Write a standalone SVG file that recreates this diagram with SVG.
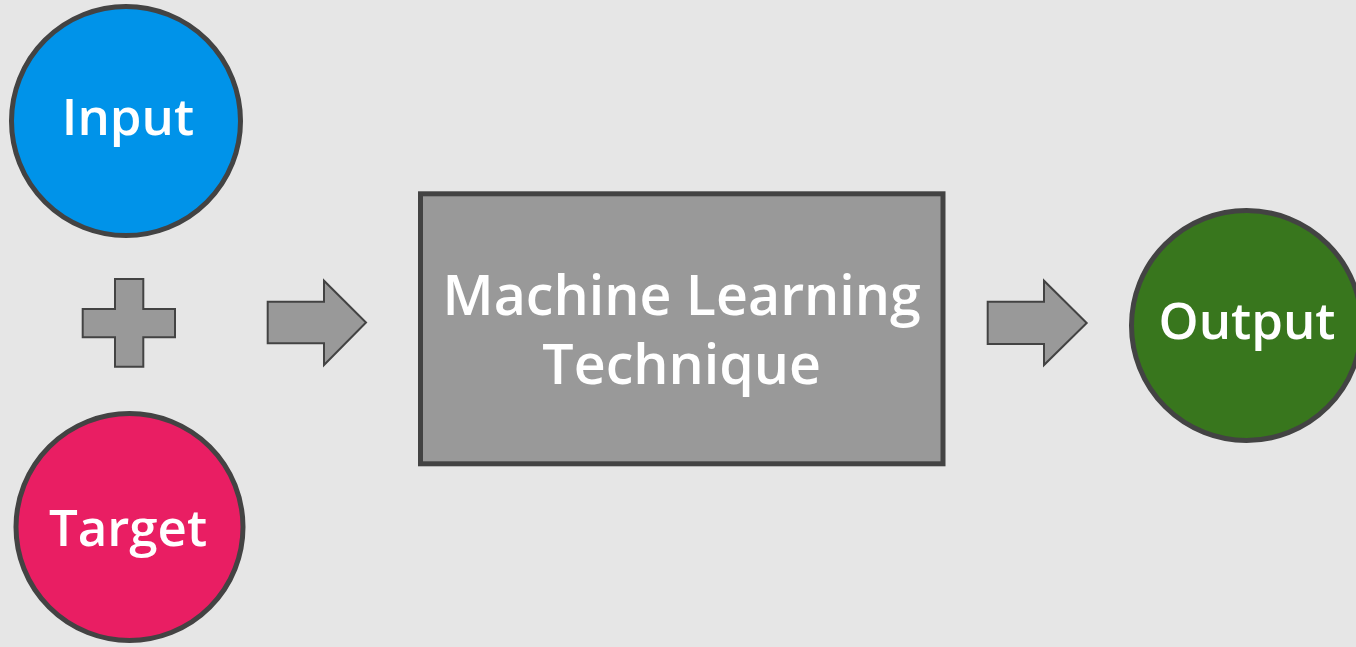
<svg xmlns="http://www.w3.org/2000/svg" width="1356" height="647" viewBox="0 0 1356 647">
<style>
.node{stroke:#434343;stroke-width:5}
.shape{fill:#999999;stroke:#434343;stroke-width:2}
.lbl{font-family:"Open Sans","Liberation Sans",sans-serif;font-weight:600;fill:#ffffff;text-anchor:middle}
</style>
<rect width="1356" height="647" fill="#e6e6e6"/>
<g id="input">
<circle class="node" cx="126" cy="121" r="114.5" fill="#0093e9"/>
<text class="lbl" x="128" y="135" font-size="51">Input</text>
</g>
<g id="plus">
<path class="shape" d="M115,279 H143.3 V309 H175 V337.3 H143.3 V366.7 H115 V337.3 H82.7 V309 H115 Z"/>
</g>
<g id="target">
<circle class="node" cx="129.5" cy="527" r="113.5" fill="#e91e63"/>
<text class="lbl" x="128" y="545.7" font-size="51">Target</text>
</g>
<g id="ml">
<rect class="node" x="420.5" y="193.8" width="522.5" height="270" fill="#999999"/>
<text class="lbl" x="681.7" y="315" font-size="55.5">Machine Learning</text>
<text class="lbl" x="681.7" y="384" font-size="55.5">Technique</text>
</g>
<g id="output">
<circle class="node" cx="1246.5" cy="325.5" r="115" fill="#38761d"/>
<text class="lbl" x="1247" y="339.3" font-size="51">Output</text>
</g>
<g id="connectors">
<path class="shape" d="M267.7,301.7 H324 V280.7 L366,322.5 L324,365 V343.3 H267.7 Z"/>
<path class="shape" d="M987.7,301.7 H1044 V280.7 L1086.7,323 L1044,365 V344 H987.7 Z"/>
</g>
</svg>
